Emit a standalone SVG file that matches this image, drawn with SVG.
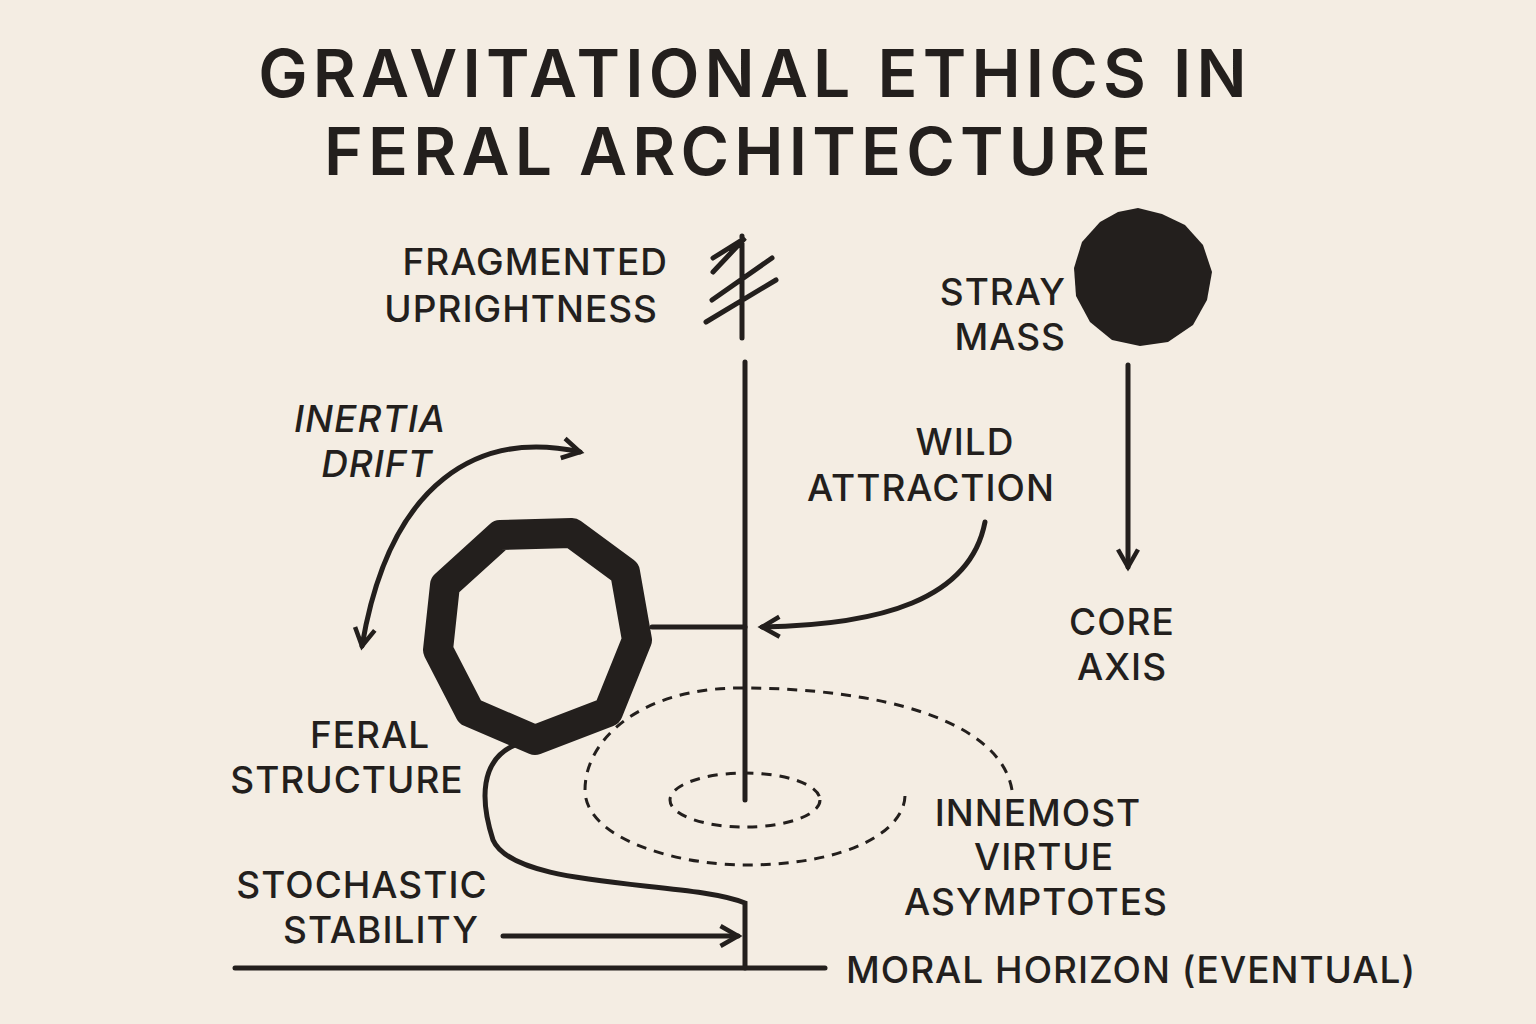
<svg xmlns="http://www.w3.org/2000/svg" width="1536" height="1024" viewBox="0 0 1536 1024">
<defs>
<style>
.t{font-family:"Inter","Liberation Sans",sans-serif;font-weight:500;fill:#231f1d;font-size:37px;letter-spacing:1px}
.h{font-family:"Inter","Liberation Sans",sans-serif;font-weight:600;fill:#231f1d;font-size:66px;letter-spacing:5.2px}
.l{fill:none;stroke:#231f1d;stroke-width:5;stroke-linecap:round}
.d{fill:none;stroke:#231f1d;stroke-width:3;stroke-dasharray:10 8}
</style>
<marker id="a" viewBox="0 0 10 10" refX="8" refY="5" markerWidth="5" markerHeight="5" orient="auto-start-reverse"><path d="M1 1L8 5L1 9" fill="none" stroke="#231f1d" stroke-width="1.8"/></marker>
</defs>
<rect width="1536" height="1024" fill="#f4ede3"/>
<g id="title">
<text class="h" x="755" y="97" text-anchor="middle">GRAVITATIONAL ETHICS IN</text>
<text class="h" x="740" y="175" text-anchor="middle">FERAL ARCHITECTURE</text>
</g>
<g id="connectors">
<path class="l" d="M745 362V800"/>
<path class="l" d="M652 627H745"/>
<path class="l" d="M1128 365V567" marker-end="url(#a)"/>
<path class="l" d="M985 522C970 600 880 625 762 627" marker-end="url(#a)"/>
<path class="l" d="M580 452C480 430 390 480 362 646" marker-start="url(#a)" marker-end="url(#a)"/>
<path class="l" d="M515 745C480 760 480 800 493 840C515 890 690 880 745 903V968"/>
<path class="l" d="M235 968H825"/>
<path class="l" d="M503 936H738" marker-end="url(#a)"/>
<path class="d" d="M1012 790C1000 720 880 688 740 688C640 688 585 740 585 790C585 840 680 865 745 865C850 865 905 830 905 795"/>
<ellipse class="d" cx="745" cy="800" rx="75" ry="27"/>
</g>
<g id="fragmented">
<path class="l" d="M742 236V338M713 258L745 238L713 272M712 300L772 258M706 322L776 280"/>
<text class="t" x="668" y="275" text-anchor="end">FRAGMENTED</text>
<text class="t" x="658" y="322" text-anchor="end">UPRIGHTNESS</text>
</g>
<g id="stray">
<path fill="#231f1d" d="M1138 208L1162 214L1185 225L1203 245L1212 272L1207 300L1193 325L1168 342L1140 346L1112 340L1090 322L1076 296L1074 268L1082 242L1100 222L1118 212Z"/>
<text class="t" x="1066" y="305" text-anchor="end">STRAY</text>
<text class="t" x="1066" y="350" text-anchor="end">MASS</text>
</g>
<g id="feral">
<path fill="none" stroke="#231f1d" stroke-width="30" stroke-linejoin="round" d="M500 535L572 533L625 572L637 640L608 712L535 740L470 712L438 650L445 585Z"/>
<text class="t" x="370" y="748" text-anchor="middle">FERAL</text>
<text class="t" x="347" y="793" text-anchor="middle">STRUCTURE</text>
</g>
<g id="labels">
<text class="t" x="370" y="432" text-anchor="middle" font-style="italic">INERTIA</text>
<text class="t" x="377" y="477" text-anchor="middle" font-style="italic">DRIFT</text>
<text class="t" x="965" y="455" text-anchor="middle">WILD</text>
<text class="t" x="931" y="501" text-anchor="middle">ATTRACTION</text>
<text class="t" x="1122" y="635" text-anchor="middle">CORE</text>
<text class="t" x="1122" y="680" text-anchor="middle">AXIS</text>
<text class="t" x="1038" y="826" text-anchor="middle">INNEMOST</text>
<text class="t" x="1044" y="870" text-anchor="middle">VIRTUE</text>
<text class="t" x="1036" y="915" text-anchor="middle">ASYMPTOTES</text>
<text class="t" x="362" y="898" text-anchor="middle">STOCHASTIC</text>
<text class="t" x="381" y="943" text-anchor="middle">STABILITY</text>
<text class="t" x="846" y="983">MORAL HORIZON (EVENTUAL)</text>
</g>
</svg>
